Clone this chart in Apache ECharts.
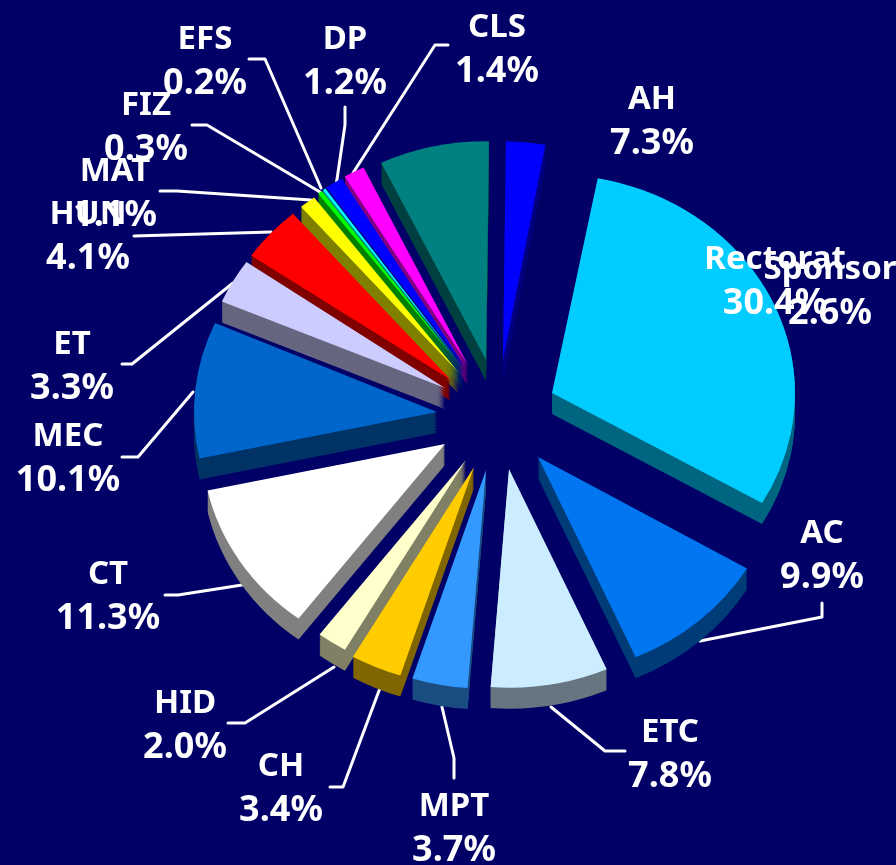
<!DOCTYPE html>
<html>
<head>
<meta charset="utf-8">
<style>html,body{margin:0;padding:0;background:#000066}#c{width:896px;height:865px}</style>
<script src="https://cdn.jsdelivr.net/npm/echarts@6/dist/echarts.min.js"></script>
</head>
<body>
<div id="c"></div>
<script>
const categories = ['Sponsor','Rectorat','AC','ETC','MPT','CH','HID','CT','MEC','ET','HUN','MAT','FIZ','EFS','DP','CLS','AH'];
const values = [2.6,30.4,9.9,7.8,3.7,3.4,2.0,11.3,10.1,3.3,4.1,1.1,0.3,0.2,1.2,1.4,7.3];
const colors = ['#0000FF','#00CCFF','#0077F0','#CCECFF','#3399FF','#FFCC00','#FFFFCC','#FFFFFF','#0066CC','#CCCCFF','#FF0000','#FFFF00','#00FF00','#00FFFF','#0000FF','#FF00FF','#008080'];
const sideColors = ['#000080','#006680','#003C78','#667680','#1A4D80','#806600','#808066','#808080','#003366','#666680','#800000','#808000','#008000','#008080','#000080','#800080','#004040'];

// Layout only: the centre of the pie, how far each wedge is pulled out of it,
// and the small turn the reference's perspective gives to each wedge
const pieCenter = [478, 420];
const pieRadius = 243;
const startAngle = 88;
const perspectiveTurn = [1.3,0.5,0,0,0,0,0,0,0,0.7,1.2,1.2,1.2,1.2,1.2,1.2,1.3];
const tilt = 0.9;
const depth = 21;
const explodeX = [25,74,60,31,8,-4,-12,-33,-41,-33,-27,-19,-15,-14,-13,-10,8];
const explodeY = [-60,-27,37,49,50,47,40,24,-8,-32,-40,-47,-51,-52,-53,-55,-60];
const labelX = [830,775,822,670,454,281,185,108,68,72,88,115,146,205,345,497,652];
const labelY = [292,282,556,755,829,789,726,597,459,367,237,194,128,62,62,50,122];
const leaders = [null,null,
  [[700,641],[822,617],[822,603]],
  [[551,707],[605,751],[625,751]],
  [[442,707],[454,758],[454,778]],
  [[380,688],[343,787],[330,787]],
  [[334,667],[245,723],[228,723]],
  [[242,585],[178,595],[165,595]],
  [[193,392],[138,457],[122,457]],
  [[233,283],[132,364],[122,364]],
  [[271,232],[134,236]],
  [[311,200],[177,191],[160,191]],
  [[320,192],[207,125],[192,125]],
  [[321,188],[265,59],[249,59]],
  [[336,186],[345,125],[345,107]],
  [[353,173],[435,45],[448,45]],
  null];

function wedge(i, drop, palette) {
  return {
    type: 'pie', radius: [0, pieRadius], startAngle: startAngle + perspectiveTurn[i], silent: true, animation: false,
    center: [pieCenter[0] + explodeX[i], (pieCenter[1] + explodeY[i] + drop) / tilt],
    label: {show: false}, labelLine: {show: false}, emphasis: {disabled: true},
    data: categories.map((name, k) => ({
      name, value: values[k],
      itemStyle: {color: k === i ? palette[i] : 'transparent', borderWidth: 0}
    }))
  };
}

const series = [];
for (let drop = depth; drop > 0; drop -= 1.5) {
  categories.forEach((_, i) => series.push(wedge(i, drop, sideColors)));
}
categories.forEach((_, i) => series.push(wedge(i, 0, colors)));
series.push({
  name: 'labels', type: 'pie', radius: [0, pieRadius * 0.5], center: pieCenter, startAngle,
  silent: true, animation: false, avoidLabelOverlap: false, emphasis: {disabled: true},
  itemStyle: {color: 'transparent'},
  label: {
    show: true, position: 'outside', color: '#FFFFFF', fontFamily: 'Noto Sans', fontWeight: 'bold',
    fontSize: 33, lineHeight: 44, align: 'center',
    formatter: p => '{n|' + p.name + '}\n{v|' + p.value.toFixed(1) + '%}',
    rich: {
      n: {color: '#FFFFFF', fontFamily: 'Noto Sans', fontWeight: 'bold', fontSize: 33, lineHeight: 44, align: 'center'},
      v: {color: '#FFFFFF', fontFamily: 'Noto Sans', fontWeight: 'bold', fontSize: 36, lineHeight: 44, align: 'center'}
    }
  },
  labelLine: {show: true, smooth: false, lineStyle: {color: '#FFFFFF', width: 3, cap: 'round', join: 'round'}},
  labelLayout: p => {
    const o = {x: labelX[p.dataIndex], y: labelY[p.dataIndex], align: 'center', verticalAlign: 'middle'};
    if (leaders[p.dataIndex]) o.labelLinePoints = leaders[p.dataIndex];
    return o;
  },
  data: categories.map((name, k) => ({name, value: values[k], labelLine: {show: !!leaders[k]}}))
});

const chart = echarts.init(document.getElementById('c'));
chart.setOption({backgroundColor: '#000066', animation: false, series});

// The pie lies tilted in the reference: flatten every wedge (not the label series) into an ellipse
chart._chartsViews.forEach(v => {
  if (v.__model && v.__model.get('name') !== 'labels') {
    v.group.scaleY = tilt;
    v.group.traverse(el => el.dirty && el.dirty());
    v.group.dirty && v.group.dirty();
  }
});
chart.getZr().refresh();
</script>
</body>
</html>
